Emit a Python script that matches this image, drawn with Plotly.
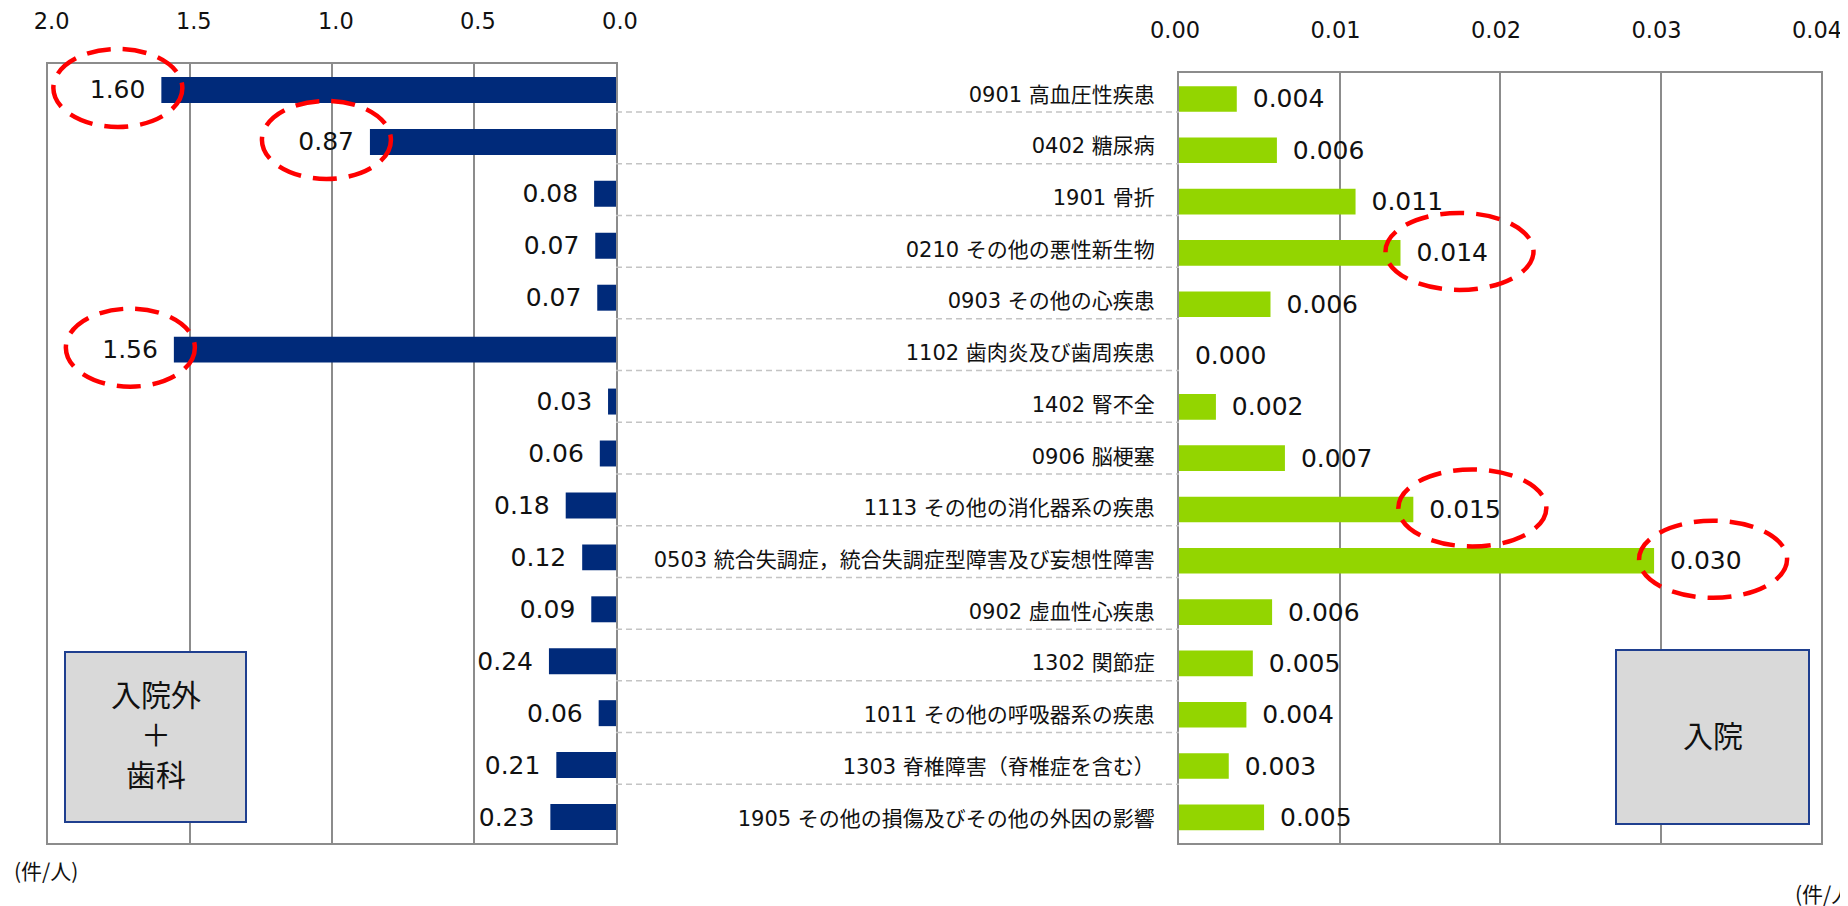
import plotly.graph_objects as go

# ---------------- data ----------------
categories = [
    "0901 高血圧性疾患",
    "0402 糖尿病",
    "1901 骨折",
    "0210 その他の悪性新生物",
    "0903 その他の心疾患",
    "1102 歯肉炎及び歯周疾患",
    "1402 腎不全",
    "0906 脳梗塞",
    "1113 その他の消化器系の疾患",
    "0503 統合失調症，統合失調症型障害及び妄想性障害",
    "0902 虚血性心疾患",
    "1302 関節症",
    "1011 その他の呼吸器系の疾患",
    "1303 脊椎障害（脊椎症を含む）",
    "1905 その他の損傷及びその他の外因の影響",
]
outpatient_dental = [1.60, 0.866, 0.077, 0.073, 0.066, 1.556, 0.028, 0.057,
                     0.177, 0.119, 0.087, 0.236, 0.061, 0.21, 0.231]
inpatient = [0.0036, 0.0061, 0.011, 0.0138, 0.0057, 0.0, 0.0023, 0.0066,
             0.0146, 0.0296, 0.0058, 0.0046, 0.0042, 0.0031, 0.0053]
left_ticks = [2.0, 1.5, 1.0, 0.5, 0.0]
right_ticks = [0.00, 0.01, 0.02, 0.03, 0.04]
highlight_left = [0, 1, 5]
highlight_right = [3, 8, 9]
left_box_lines = ["入院外", "＋", "歯科"]
right_box_lines = ["入院"]
unit_text = "(件/人)"

# ---------------- style ----------------
W, H = 1848, 906
OFF = 8  # page body margin
NAVY = "#002A7A"
GREEN = "#93D500"
GRID = "#8C8C8C"
TXT = "#111111"
BOXFILL = "#D9D9D9"
BOXLINE = "#1F3F8F"
RED = "#FF0000"
NUMFONT = "DejaVu Sans"
JPFONT = "DejaVu Sans, Noto Sans CJK JP"
GAP = "\u00a0\u2009"


def px(x):
    return (x - OFF) / W


def py(y):
    return 1 - (y - OFF) / H


n = len(categories)
idx = list(range(n))

left_xdom = [px(47.7), px(616)]
left_ydom = [py(843), py(64)]
right_xdom = [px(1179), px(1821)]
right_ydom = [py(843), py(73.3)]
mid_xdom = [px(616), px(1179)]


def cat_paper(i, ydom):
    # centre of category i on a reversed category axis, in paper units
    return ydom[1] - (i + 0.5) / n * (ydom[1] - ydom[0])


fig = go.Figure()

fig.add_trace(go.Bar(
    y=idx, x=outpatient_dental, orientation="h", xaxis="x", yaxis="y",
    marker=dict(color=NAVY, line=dict(width=0)), width=0.5,
    texttemplate="%{x:.2f}" + GAP, textposition="outside",
    textfont=dict(family=NUMFONT, size=25, color=TXT),
    constraintext="none", cliponaxis=False, hoverinfo="skip",
))
fig.add_trace(go.Bar(
    y=idx, x=inpatient, orientation="h", xaxis="x2", yaxis="y2",
    marker=dict(color=GREEN, line=dict(width=0)), width=0.5,
    texttemplate=GAP + "%{x:.3f}", textposition="outside",
    textfont=dict(family=NUMFONT, size=25, color=TXT),
    constraintext="none", cliponaxis=False, hoverinfo="skip",
))

# middle: category labels and dashed separators
fig.add_trace(go.Scatter(
    x=[0.957] * n, y=idx, mode="text", text=categories,
    textposition="middle left", xaxis="x3", yaxis="y3",
    textfont=dict(family=JPFONT, size=21, color=TXT), hoverinfo="skip",
))
sep_x, sep_y = [], []
for i in range(n - 1):
    sep_x += [0, 1, None]
    sep_y += [i + 0.304, i + 0.304, None]
fig.add_trace(go.Scatter(
    x=sep_x, y=sep_y, mode="lines", xaxis="x3", yaxis="y3",
    line=dict(color="#C4C4C4", width=1.5, dash="6px,4px"), hoverinfo="skip",
))

common_x = dict(
    side="top", showgrid=True, gridcolor=GRID, gridwidth=2,
    showline=True, linecolor=GRID, linewidth=2, mirror=True,
    zeroline=False, ticks="", tickfont=dict(family=NUMFONT, size=22.5, color=TXT),
    ticklabelstandoff=24, ticklabelshift=-4, fixedrange=True, automargin=False,
)
common_y = dict(
    range=[n - 0.5, -0.5], showticklabels=False, showgrid=False,
    showline=True, linecolor=GRID, linewidth=2, mirror=True,
    zeroline=False, ticks="", fixedrange=True, automargin=False,
)

fig.update_layout(
    width=W, height=H, margin=dict(l=0, r=0, t=0, b=0, pad=0, autoexpand=False),
    paper_bgcolor="white", plot_bgcolor="white", showlegend=False,
    xaxis=dict(domain=left_xdom, anchor="y", range=[2.0, 0.0],
               tickmode="array", tickvals=left_ticks, tickformat=".1f", **common_x),
    yaxis=dict(domain=left_ydom, anchor="x", **common_y),
    xaxis2=dict(domain=right_xdom, anchor="y2", range=[0, 0.04],
                tickmode="array", tickvals=right_ticks, tickformat=".2f", **common_x),
    yaxis2=dict(domain=right_ydom, anchor="x2", **common_y),
    xaxis3=dict(domain=mid_xdom, anchor="y3", range=[0, 1], visible=False,
                fixedrange=True, automargin=False),
    yaxis3=dict(domain=left_ydom, anchor="x3", range=[14.44, -0.625],
                visible=False, fixedrange=True, automargin=False),
)

shapes = []
# red dashed ellipses around highlighted labels (x on data axis, y from category centre)
for i in highlight_left:
    shapes.append(dict(
        type="circle", xref="x", yref="paper",
        xsizemode="pixel", xanchor=outpatient_dental[i], x0=-108, x1=21,
        ysizemode="pixel", yanchor=cat_paper(i, left_ydom), y0=-37, y1=41,
        line=dict(color=RED, width=4.5, dash="24px,12px"),
        fillcolor="rgba(0,0,0,0)", layer="above",
    ))
for i in highlight_right:
    shapes.append(dict(
        type="circle", xref="x2", yref="paper",
        xsizemode="pixel", xanchor=inpatient[i], x0=-15, x1=133,
        ysizemode="pixel", yanchor=cat_paper(i, right_ydom), y0=-37, y1=40,
        line=dict(color=RED, width=4.5, dash="24px,12px"),
        fillcolor="rgba(0,0,0,0)", layer="above",
    ))
# label boxes
shapes.append(dict(type="rect", xref="paper", yref="paper",
                   x0=px(65), x1=px(246), y0=py(822), y1=py(652),
                   fillcolor=BOXFILL, line=dict(color=BOXLINE, width=2), layer="above"))
shapes.append(dict(type="rect", xref="paper", yref="paper",
                   x0=px(1616), x1=px(1809), y0=py(824), y1=py(650),
                   fillcolor=BOXFILL, line=dict(color=BOXLINE, width=2), layer="above"))
fig.update_layout(shapes=shapes)

annotations = []
for k, line in enumerate(left_box_lines):
    annotations.append(dict(
        x=px(155.5), y=py(693 + 40 * k), xref="paper", yref="paper", text=line,
        showarrow=False, xanchor="center", yanchor="middle",
        font=dict(family="Noto Sans CJK JP", size=30, color=TXT)))
for k, line in enumerate(right_box_lines):
    annotations.append(dict(
        x=px(1712.5), y=py(734 + 40 * k), xref="paper", yref="paper", text=line,
        showarrow=False, xanchor="center", yanchor="middle",
        font=dict(family="Noto Sans CJK JP", size=30, color=TXT)))
annotations += [
    dict(x=px(12), y=py(870), xref="paper", yref="paper", text=unit_text,
         showarrow=False, xanchor="left", yanchor="middle",
         font=dict(family="Noto Sans CJK JP", size=21, color=TXT)),
    dict(x=px(1793), y=py(893), xref="paper", yref="paper", text=unit_text,
         showarrow=False, xanchor="left", yanchor="middle",
         font=dict(family="Noto Sans CJK JP", size=21, color=TXT)),
]
fig.update_layout(annotations=annotations)

fig.write_html("out.html")
